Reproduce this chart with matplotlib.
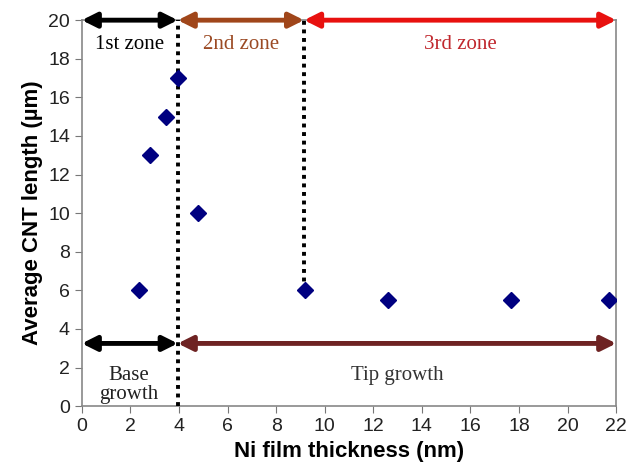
import matplotlib
matplotlib.use("Agg")
import matplotlib.pyplot as plt

# data
thickness = [2.35, 2.8, 3.45, 3.95, 4.8, 9.2, 12.6, 17.65, 21.7]
cnt_length = [6, 13, 15, 17, 10, 6, 5.5, 5.5, 5.5]

zone_edges = [0, 3.95, 9.15, 22]
zone_names = ["1st zone", "2nd zone", "3rd zone"]
zone_colors = ["black", "#A0461A", "#E8110F"]
zone_text_colors = ["black", "#9B4A24", "#C0272D"]

growth_edges = [0, 3.95, 22]
growth_names = ["Base\ngrowth", "Tip growth"]
growth_colors = ["black", "#6E2323"]

fig = plt.figure(figsize=(6.34, 4.69), dpi=100)
ax = fig.add_axes([0.129, 0.134, 0.843, 0.823])

ax.plot(thickness, cnt_length, linestyle="none", marker="D", ms=8.5,
        color="#000080", zorder=5)

# dotted zone boundaries
ax.plot([zone_edges[1], zone_edges[1]], [0, 20], color="black", ls=(0, (1, 1.2)),
        lw=2.8, zorder=3)
ax.plot([zone_edges[2], zone_edges[2]], [6, 20], color="black", ls=(0, (1, 1.2)),
        lw=2.8, zorder=3)

# zone arrows at top
for i in range(3):
    ax.annotate("", xy=(zone_edges[i + 1], 20), xytext=(zone_edges[i], 20),
                arrowprops=dict(arrowstyle="<|-|>", color=zone_colors[i], lw=3.5,
                                mutation_scale=22, shrinkA=0, shrinkB=0),
                annotation_clip=False, zorder=6)
    ax.text((zone_edges[i] + zone_edges[i + 1]) / 2, 18.75, zone_names[i],
            ha="center", va="center", family="Liberation Serif", fontsize=15,
            color=zone_text_colors[i])

# growth arrows at bottom
for i in range(2):
    ax.annotate("", xy=(growth_edges[i + 1], 3.25), xytext=(growth_edges[i], 3.25),
                arrowprops=dict(arrowstyle="<|-|>", color=growth_colors[i], lw=3.5,
                                mutation_scale=22, shrinkA=0, shrinkB=0),
                annotation_clip=False, zorder=6)
ax.text(1.95, 1.1, growth_names[0], ha="center", va="center",
        family="Liberation Serif", fontsize=15, color="#222222", linespacing=1.05)
ax.text(13.0, 1.6, growth_names[1], ha="center", va="center",
        family="Liberation Serif", fontsize=15, color="#333333")

ax.set_xlim(0, 22)
ax.set_ylim(0, 20)
ax.set_xticks(range(0, 23, 2))
ax.set_yticks(range(0, 21, 2))
ax.tick_params(direction="out", length=5, color="#777777", labelsize=14,
               labelcolor="#222222")
for sp in ax.spines.values():
    sp.set_color("#888888")
    sp.set_linewidth(1.2)
for lbl in ax.get_xticklabels() + ax.get_yticklabels():
    lbl.set_family("Liberation Sans")

ax.set_xlabel("Ni film thickness (nm)", family="Liberation Sans",
              fontsize=16, fontweight="bold", labelpad=4)
ax.set_ylabel("Average CNT length (\u00b5m)", family="Liberation Sans",
              fontsize=16, fontweight="bold", labelpad=4)

fig.savefig("out.png", dpi=100)
